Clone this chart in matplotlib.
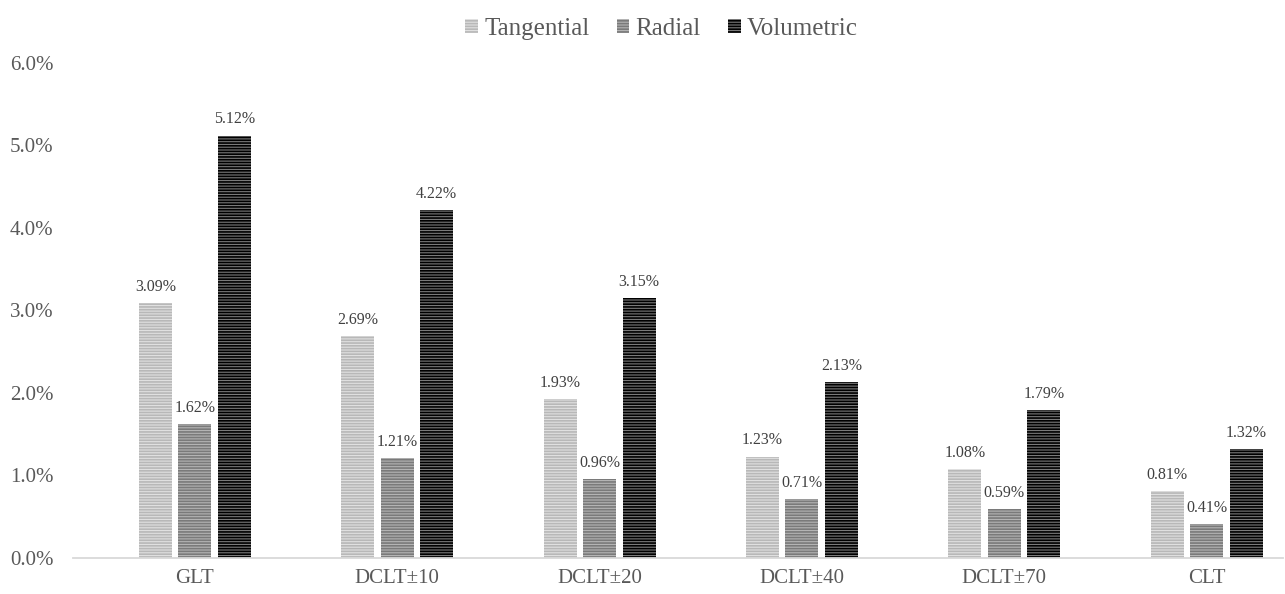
import numpy as np
import matplotlib
matplotlib.use("Agg")
from matplotlib import pyplot as plt

# data
categories = ["GLT", "DCLT±10", "DCLT±20", "DCLT±40", "DCLT±70", "CLT"]
tangential = [3.09, 2.69, 1.93, 1.23, 1.08, 0.81]
radial = [1.62, 1.21, 0.96, 0.71, 0.59, 0.41]
volumetric = [5.12, 4.22, 3.15, 2.13, 1.79, 1.32]

plt.rcParams['font.family'] = ['Liberation Serif', 'DejaVu Serif']
plt.rcParams['hatch.linewidth'] = 1.2

fig = plt.figure(figsize=(12.85, 5.94), dpi=100)
ax = fig.add_axes([0.0568, 0.0606, 0.942, 0.8334])

x = np.arange(len(categories))
w = 0.163
off = 0.195

series = [
    ("Tangential", tangential, "#e0e0e0", "#b8b8b8"),
    ("Radial", radial, "#b4b4b4", "#7a7a7a"),
    ("Volumetric", volumetric, "#7a7a7a", "#000000"),
]

for i, (name, vals, fc, hc) in enumerate(series):
    pos = x + (i - 1) * off
    bars = ax.bar(pos, vals, w, label=name, color=fc, edgecolor=hc,
                  linewidth=0, hatch="------")
    for b, v in zip(bars, vals):
        ax.text(b.get_x() + b.get_width() / 2, v + 0.1, f"{v:.2f}%",
                ha="center", va="bottom", fontsize=11.5, color="#404040")

ax.set_xlim(-0.603, 5.38)
ax.set_ylim(0, 6.0)
ax.set_yticks(np.arange(0, 6.01, 1.0))
ax.set_yticklabels([f"{t:.1f}%" for t in np.arange(0, 6.01, 1.0)])
ax.set_xticks(x)
ax.set_xticklabels(categories)
ax.tick_params(axis="both", length=0, labelsize=15, colors="#595959")
ax.tick_params(axis="y", pad=14)
ax.tick_params(axis="x", pad=8)

for s in ["top", "right", "left"]:
    ax.spines[s].set_visible(False)
ax.spines["bottom"].set_color("#d9d9d9")
ax.spines["bottom"].set_linewidth(1.3)

leg = fig.legend(loc="upper center", bbox_to_anchor=(0.515, 1.008), ncol=3,
                 frameon=False, fontsize=18, handlelength=0.5, handleheight=0.5,
                 handletextpad=0.25, columnspacing=1.1)
for t in leg.get_texts():
    t.set_color("#595959")

fig.savefig("out.png", dpi=100)
